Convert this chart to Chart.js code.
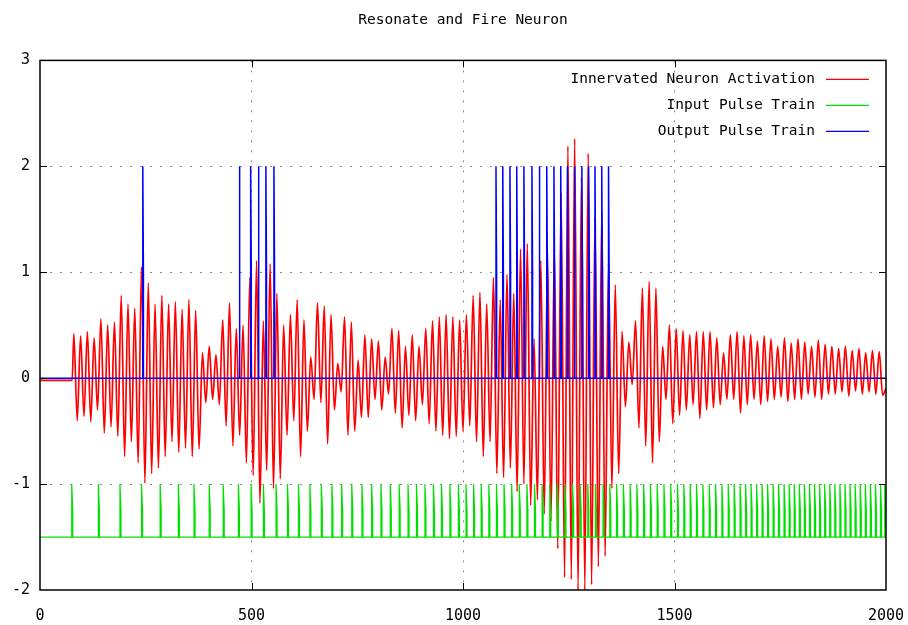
<!DOCTYPE html>
<html>
<head>
<meta charset="utf-8">
<title>Resonate and Fire Neuron</title>
<script src="https://cdn.jsdelivr.net/npm/chart.js@4.4.1/dist/chart.umd.min.js"></script>
<style>
    body { margin: 0; background: #fff; }
    #wrap { width: 908px; height: 625px; }
</style>
</head>
<body>
<div id="wrap"><canvas id="neuronChart" width="908" height="625"></canvas></div>
<script>
'use strict';

var activationStart = 80;
var activationStep = 8;
var activationLead = -0.02;
var activation = [
    0.42, -0.40, 0.40, -0.36, 0.44, -0.41, 0.38, -0.30, 0.56, -0.52,
    0.50, -0.46, 0.53, -0.55, 0.78, -0.74, 0.70, -0.60, 0.66, -0.80,
    1.05, -0.99, 0.90, -0.90, 0.70, -0.85, 0.78, -0.74, 0.70, -0.60,
    0.72, -0.70, 0.65, -0.66, 0.74, -0.74, 0.64, -0.67, 0.24, -0.23,
    0.30, -0.20, 0.22, -0.25, 0.55, -0.45, 0.71, -0.64, 0.47, -0.54,
    0.50, -0.80, 0.95, -0.92, 1.11, -1.18, 0.54, -0.87, 1.08, -1.04,
    0.80, -0.95, 0.50, -0.54, 0.60, -0.40, 0.74, -0.74, 0.55, -0.50,
    0.20, -0.20, 0.71, -0.23, 0.68, -0.62, 0.60, -0.30, 0.14, -0.13,
    0.58, -0.54, 0.53, -0.50, 0.17, -0.37, 0.41, -0.37, 0.37, -0.20,
    0.35, -0.30, 0.20, -0.15, 0.47, -0.33, 0.45, -0.47, 0.30, -0.35,
    0.41, -0.40, 0.30, -0.25, 0.47, -0.43, 0.54, -0.50, 0.58, -0.54,
    0.60, -0.57, 0.58, -0.55, 0.55, -0.50, 0.60, -0.45, 0.78, -0.60,
    0.81, -0.74, 0.70, -0.60, 0.95, -0.90, 0.74, -0.94, 0.98, -0.85,
    0.80, -1.07, 1.22, -1.00, 1.27, -1.20, 0.37, -1.15, 1.11, -1.28,
    1.18, -1.35, 1.22, -1.61, 1.75, -1.88, 2.19, -1.90, 2.26, -2.00,
    1.90, -2.00, 2.12, -1.95, 1.52, -1.78, 1.58, -1.68, 1.08, -1.04,
    0.88, -0.90, 0.44, -0.27, 0.34, -0.06, 0.54, -0.47, 0.85, -0.64,
    0.91, -0.80, 0.85, -0.60, 0.30, -0.20, 0.50, -0.43, 0.47, -0.35,
    0.45, -0.30, 0.41, -0.25, 0.44, -0.38, 0.44, -0.30, 0.44, -0.28,
    0.38, -0.25, 0.24, -0.20, 0.41, -0.20, 0.44, -0.33, 0.40, -0.25,
    0.41, -0.20, 0.35, -0.25, 0.40, -0.22, 0.37, -0.20, 0.30, -0.18,
    0.38, -0.22, 0.33, -0.20, 0.37, -0.20, 0.34, -0.15, 0.30, -0.18,
    0.36, -0.20, 0.32, -0.15, 0.30, -0.15, 0.28, -0.13, 0.30, -0.17,
    0.26, -0.12, 0.28, -0.15, 0.24, -0.13, 0.26, -0.15, 0.25, -0.16,
    -0.10
];

// Input pulse train: pulse times, levels
var inputPulses = [
    75, 138, 189, 240, 284, 327, 364, 400, 433, 469, 499, 528, 558, 585, 611,
    638, 665, 690, 713, 737, 761, 784, 806, 828, 849, 870, 890, 910, 930, 949,
    969, 989, 1007, 1025, 1043, 1061, 1079, 1097, 1115, 1133, 1151, 1169, 1187,
    1205, 1223, 1241, 1259, 1277, 1295, 1313, 1331, 1347, 1363, 1379, 1395,
    1411, 1427, 1443, 1459, 1475, 1491, 1507, 1522, 1537, 1552, 1567, 1582,
    1597, 1612, 1627, 1641, 1655, 1668, 1681, 1694, 1707, 1720, 1733, 1746,
    1759, 1771, 1783, 1795, 1807, 1819, 1831, 1843, 1855, 1867, 1879, 1891,
    1903, 1915, 1927, 1939, 1951, 1963, 1975, 1987, 1997
];
var inputLevels = [-1.5, -1, -1.25];   // base, peak, fall

// Output pulse train: spike times, levels
var outputSpikes = [
    243, 471, 498, 516, 534, 553,
    1078, 1094, 1111, 1127, 1144, 1163, 1180, 1198, 1215, 1231, 1247,
    1263, 1281, 1297, 1312, 1328, 1344
];
var outputLevels = [0, 2, 1];          // base, peak, fall

var xTicks = [0, 500, 1000, 1500, 2000];
var yTicks = [-2, -1, 0, 1, 2, 3];
var seriesNames = ['Innervated Neuron Activation', 'Input Pulse Train', 'Output Pulse Train'];

var red = '#ff0000';
var green = '#00e000';
var blue = '#0000ff';
var monoFont = '"DejaVu Sans Mono", "Liberation Mono", monospace';

function activationPoints() {
    var pts = [{x: 0, y: activationLead}, {x: activationStart - 4, y: activationLead}];
    activation.forEach(function (v, i) {
        pts.push({x: activationStart + i * activationStep, y: v});
    });
    return pts;
}

function pulsePoints(times, levels, width) {
    var pts = [{x: xTicks[0], y: levels[0]}];
    times.forEach(function (t) {
        pts.push({x: t, y: levels[0]}, {x: t, y: levels[1]},
                 {x: t + width, y: levels[2]}, {x: t + width, y: levels[0]});
    });
    pts.push({x: xTicks[xTicks.length - 1], y: levels[0]});
    return pts;
}

// gnuplot-like frame, inward tick marks and key
var gnuplotFrame = {
    id: 'gnuplotFrame',
    afterDatasetsDraw: function (chart) {
        var ctx = chart.ctx;
        var a = chart.chartArea;
        var xs = chart.scales.x;
        var ys = chart.scales.y;
        var colors = [red, green, blue];

        ctx.save();
        ctx.strokeStyle = '#000';
        ctx.lineWidth = 1;
        ctx.beginPath();
        xTicks.slice(1, -1).forEach(function (v) {
            var px = Math.round(xs.getPixelForValue(v)) + 0.5;
            ctx.moveTo(px, a.bottom); ctx.lineTo(px, a.bottom - 7);
            ctx.moveTo(px, a.top); ctx.lineTo(px, a.top + 7);
        });
        yTicks.slice(1, -1).forEach(function (v) {
            var py = Math.round(ys.getPixelForValue(v)) + 0.5;
            ctx.moveTo(a.left, py); ctx.lineTo(a.left + 7, py);
            ctx.moveTo(a.right, py); ctx.lineTo(a.right - 7, py);
        });
        ctx.stroke();

        ctx.lineWidth = 1.5;
        ctx.strokeRect(a.left, a.top, a.right - a.left, a.bottom - a.top);

        ctx.font = '14.5px ' + monoFont;
        ctx.textAlign = 'right';
        ctx.textBaseline = 'middle';
        ctx.fillStyle = '#000';
        seriesNames.forEach(function (name, i) {
            var y = a.top + 19 + i * 26;
            ctx.fillText(name, a.right - 71, y);
            ctx.strokeStyle = colors[i];
            ctx.lineWidth = 1.2;
            ctx.beginPath();
            ctx.moveTo(a.right - 60, y);
            ctx.lineTo(a.right - 17, y);
            ctx.stroke();
        });
        ctx.restore();
    }
};

function gridColor(ticks) {
    return function (c) {
        var v = c.tick ? c.tick.value : null;
        if (v === ticks[0] || v === ticks[ticks.length - 1]) {
            return 'rgba(0,0,0,0)';
        }
        return '#8a8a8a';
    };
}

function plainLabel(v) {
    return String(v);
}

var neuronChart = new Chart(document.getElementById('neuronChart'), {
    type: 'line',
    data: {
        datasets: [
            {
                label: seriesNames[0],
                data: activationPoints(),
                borderColor: red,
                borderWidth: 1.7,
                pointRadius: 0,
                cubicInterpolationMode: 'monotone',
                order: 3
            },
            {
                label: seriesNames[1],
                data: pulsePoints(inputPulses, inputLevels, 2.5),
                borderColor: green,
                borderWidth: 1.2,
                pointRadius: 0,
                tension: 0,
                order: 2
            },
            {
                label: seriesNames[2],
                data: pulsePoints(outputSpikes, outputLevels, 1.5),
                borderColor: blue,
                borderWidth: 1.5,
                pointRadius: 0,
                tension: 0,
                order: 1
            }
        ]
    },
    options: {
        responsive: false,
        animation: false,
        events: [],
        layout: { padding: { left: 0, right: 22, top: 0, bottom: 0 } },
        plugins: {
            legend: { display: false },
            tooltip: { enabled: false },
            title: {
                display: true,
                fullSize: false,
                text: 'Resonate and Fire Neuron',
                color: '#000',
                font: { family: monoFont, size: 14.5, weight: 'normal' },
                padding: { top: 12, bottom: 31 }
            }
        },
        scales: {
            x: {
                type: 'linear',
                min: xTicks[0],
                max: xTicks[xTicks.length - 1],
                afterFit: function (s) { s.height = 35; },
                afterBuildTicks: function (s) {
                    s.ticks = xTicks.map(function (v) { return {value: v}; });
                },
                ticks: { color: '#000', padding: 0, maxRotation: 0, callback: plainLabel,
                         font: { family: monoFont, size: 15 } },
                grid: { color: gridColor(xTicks), drawTicks: true, tickLength: 17,
                        tickColor: 'rgba(0,0,0,0)', lineWidth: 1 },
                border: { display: false, dash: [2, 8] }
            },
            y: {
                min: yTicks[0],
                max: yTicks[yTicks.length - 1],
                afterFit: function (s) { s.width = 40; },
                afterBuildTicks: function (s) {
                    s.ticks = yTicks.map(function (v) { return {value: v}; });
                },
                ticks: { color: '#000', padding: 10, callback: plainLabel,
                         font: { family: monoFont, size: 15 } },
                grid: { color: gridColor(yTicks), drawTicks: false, lineWidth: 1 },
                border: { display: false, dash: [2, 8] }
            }
        }
    },
    plugins: [gnuplotFrame]
});
</script>
</body>
</html>
